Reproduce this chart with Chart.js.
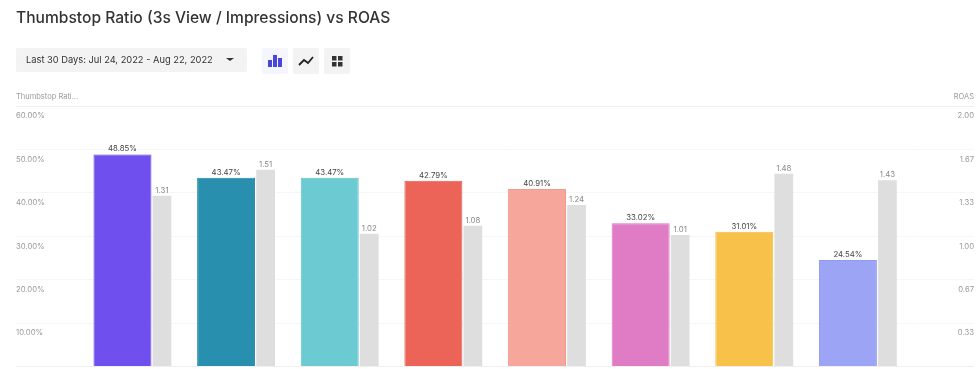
<!DOCTYPE html>
<html>
<head>
<meta charset="utf-8">
<script src="https://cdn.jsdelivr.net/npm/chart.js@4"></script>
<style>
html,body{margin:0;padding:0;background:#fff;width:980px;height:369px;overflow:hidden;font-family:Inter,"Noto Sans",sans-serif}
#wrap{position:relative;width:980px;height:369px}
canvas{position:absolute;left:0;top:0}
.t{position:absolute;white-space:nowrap}
#title{left:16px;top:7px;font-size:15.6px;line-height:22px;font-weight:500;color:#333}
#date{position:absolute;left:16px;top:48px;width:231px;height:24px;background:#f3f3f3;border-radius:2px}
#dateText{left:10px;top:5px;font-size:9.3px;line-height:14px;color:#333}
#caret{position:absolute;left:210px;top:10px;width:0;height:0;border-left:4px solid transparent;border-right:4px solid transparent;border-top:3.5px solid #333}
.btn{position:absolute;top:48px;width:26px;height:26px;border-radius:2px;background:#f3f3f3}
.btn svg{position:absolute;left:0;top:0}
.axt{top:91px;font-size:7.5px;line-height:12px;color:#999}
</style>
</head>
<body>
<div id="wrap">
<canvas id="c" width="980" height="369"></canvas>
<div class="t" id="title">Thumbstop Ratio (3s View / Impressions) vs ROAS</div>
<div id="date"><div class="t" id="dateText">Last 30 Days: Jul 24, 2022 - Aug 22, 2022</div><div id="caret"></div></div>
<div class="btn" style="left:262px;background:#f5f5ff"><svg width="26" height="26"><rect x="6" y="12" width="4" height="7" fill="#4a46dc"/><rect x="11" y="7" width="4" height="12" fill="#4a46dc"/><rect x="16" y="10" width="4" height="9" fill="#4a46dc"/></svg></div>
<div class="btn" style="left:293px"><svg width="26" height="26"><polyline points="6,17 11,12 15,15 20,9" fill="none" stroke="#222" stroke-width="1.8"/></svg></div>
<div class="btn" style="left:324px"><svg width="26" height="26"><rect x="8" y="8" width="4.5" height="4.5" fill="#333"/><rect x="14" y="8" width="4.5" height="4.5" fill="#333"/><rect x="8" y="14" width="4.5" height="4.5" fill="#333"/><rect x="14" y="14" width="4.5" height="4.5" fill="#333"/></svg></div>
<div class="t axt" style="left:16px">Thumbstop Rati...</div>
<div class="t axt" style="right:6px">ROAS</div>
</div>
<script>
const categories = ["Ad 1","Ad 2","Ad 3","Ad 4","Ad 5","Ad 6","Ad 7","Ad 8"];
const thumbstop = [48.85,43.47,43.47,42.79,40.91,33.02,31.01,24.54];
const roas = [1.31,1.51,1.02,1.08,1.24,1.01,1.48,1.43];
const barColors = ["#6f4fee","#288fae","#6ccad2","#ec6357","#f6a69b","#e07cc6","#f8c24a","#9ba4f5"];
const barEdges = ["#5f3fe0","#1f86a6","#5fc2ca","#e55a4e","#f09c91","#d873be","#f2ba42","#919bee"];
const roasColor = "#dedede";

const valueLabels = {
  id:"valueLabels",
  afterDatasetsDraw(chart){
    const ctx = chart.ctx;
    ctx.save();
    ctx.textAlign = "center";
    ctx.textBaseline = "bottom";
    ctx.font = "7.8px Inter";
    chart.data.datasets.forEach((ds,i)=>{
      chart.getDatasetMeta(i).data.forEach((el,j)=>{
        ctx.fillStyle = i===0 ? "#444" : "#888";
        const v = ds.data[j];
        ctx.fillText(i===0 ? v.toFixed(2)+"%" : v.toFixed(2), el.x, el.y-1.5);
      });
    });
    ctx.restore();
  }
};
const lineColor = c => (c.index===0 || c.tick.value===c.scale.max) ? "#efefef" : "#f6f6f6";

new Chart(document.getElementById("c"),{
  type:"bar",
  plugins:[valueLabels],
  data:{labels:categories,datasets:[
    {label:"Thumbstop Ratio",data:thumbstop,yAxisID:"y",backgroundColor:barColors,borderColor:barEdges,borderWidth:1,
     categoryPercentage:0.762,barPercentage:1.468},
    {label:"ROAS",data:roas,yAxisID:"y1",backgroundColor:roasColor,borderWidth:0,
     categoryPercentage:0.762,barPercentage:0.475}
  ]},
  options:{
    responsive:false,animation:false,
    layout:{padding:{left:16,right:6,top:106,bottom:2.5}},
    plugins:{legend:{display:false},tooltip:{enabled:false}},
    scales:{
      x:{display:false,grid:{display:false}},
      y:{position:"left",min:0,max:60,
        afterFit(s){s.width=74.4;s.paddingTop=0;s.paddingBottom=0;},
        border:{display:false},
        grid:{color:lineColor,tickColor:lineColor,tickLength:74.4,lineWidth:1},
        ticks:{stepSize:10,padding:0,crossAlign:"far",labelOffset:10,color:"#999",font:{family:"Inter",size:7.7},
          callback:v=>v===0?"":v.toFixed(2)+"%"}
      },
      y1:{position:"right",min:0,max:2,
        afterFit(s){s.width=54.5;s.paddingTop=0;s.paddingBottom=0;},
        border:{display:false},
        grid:{drawOnChartArea:false,color:lineColor,tickColor:lineColor,tickLength:54.5,lineWidth:1},
        ticks:{stepSize:1/3,padding:0,crossAlign:"far",labelOffset:10,color:"#999",font:{family:"Inter",size:7.7},
          callback:v=>v===0?"":v.toFixed(2)}
      }
    }
  }
});
</script>
</body>
</html>
